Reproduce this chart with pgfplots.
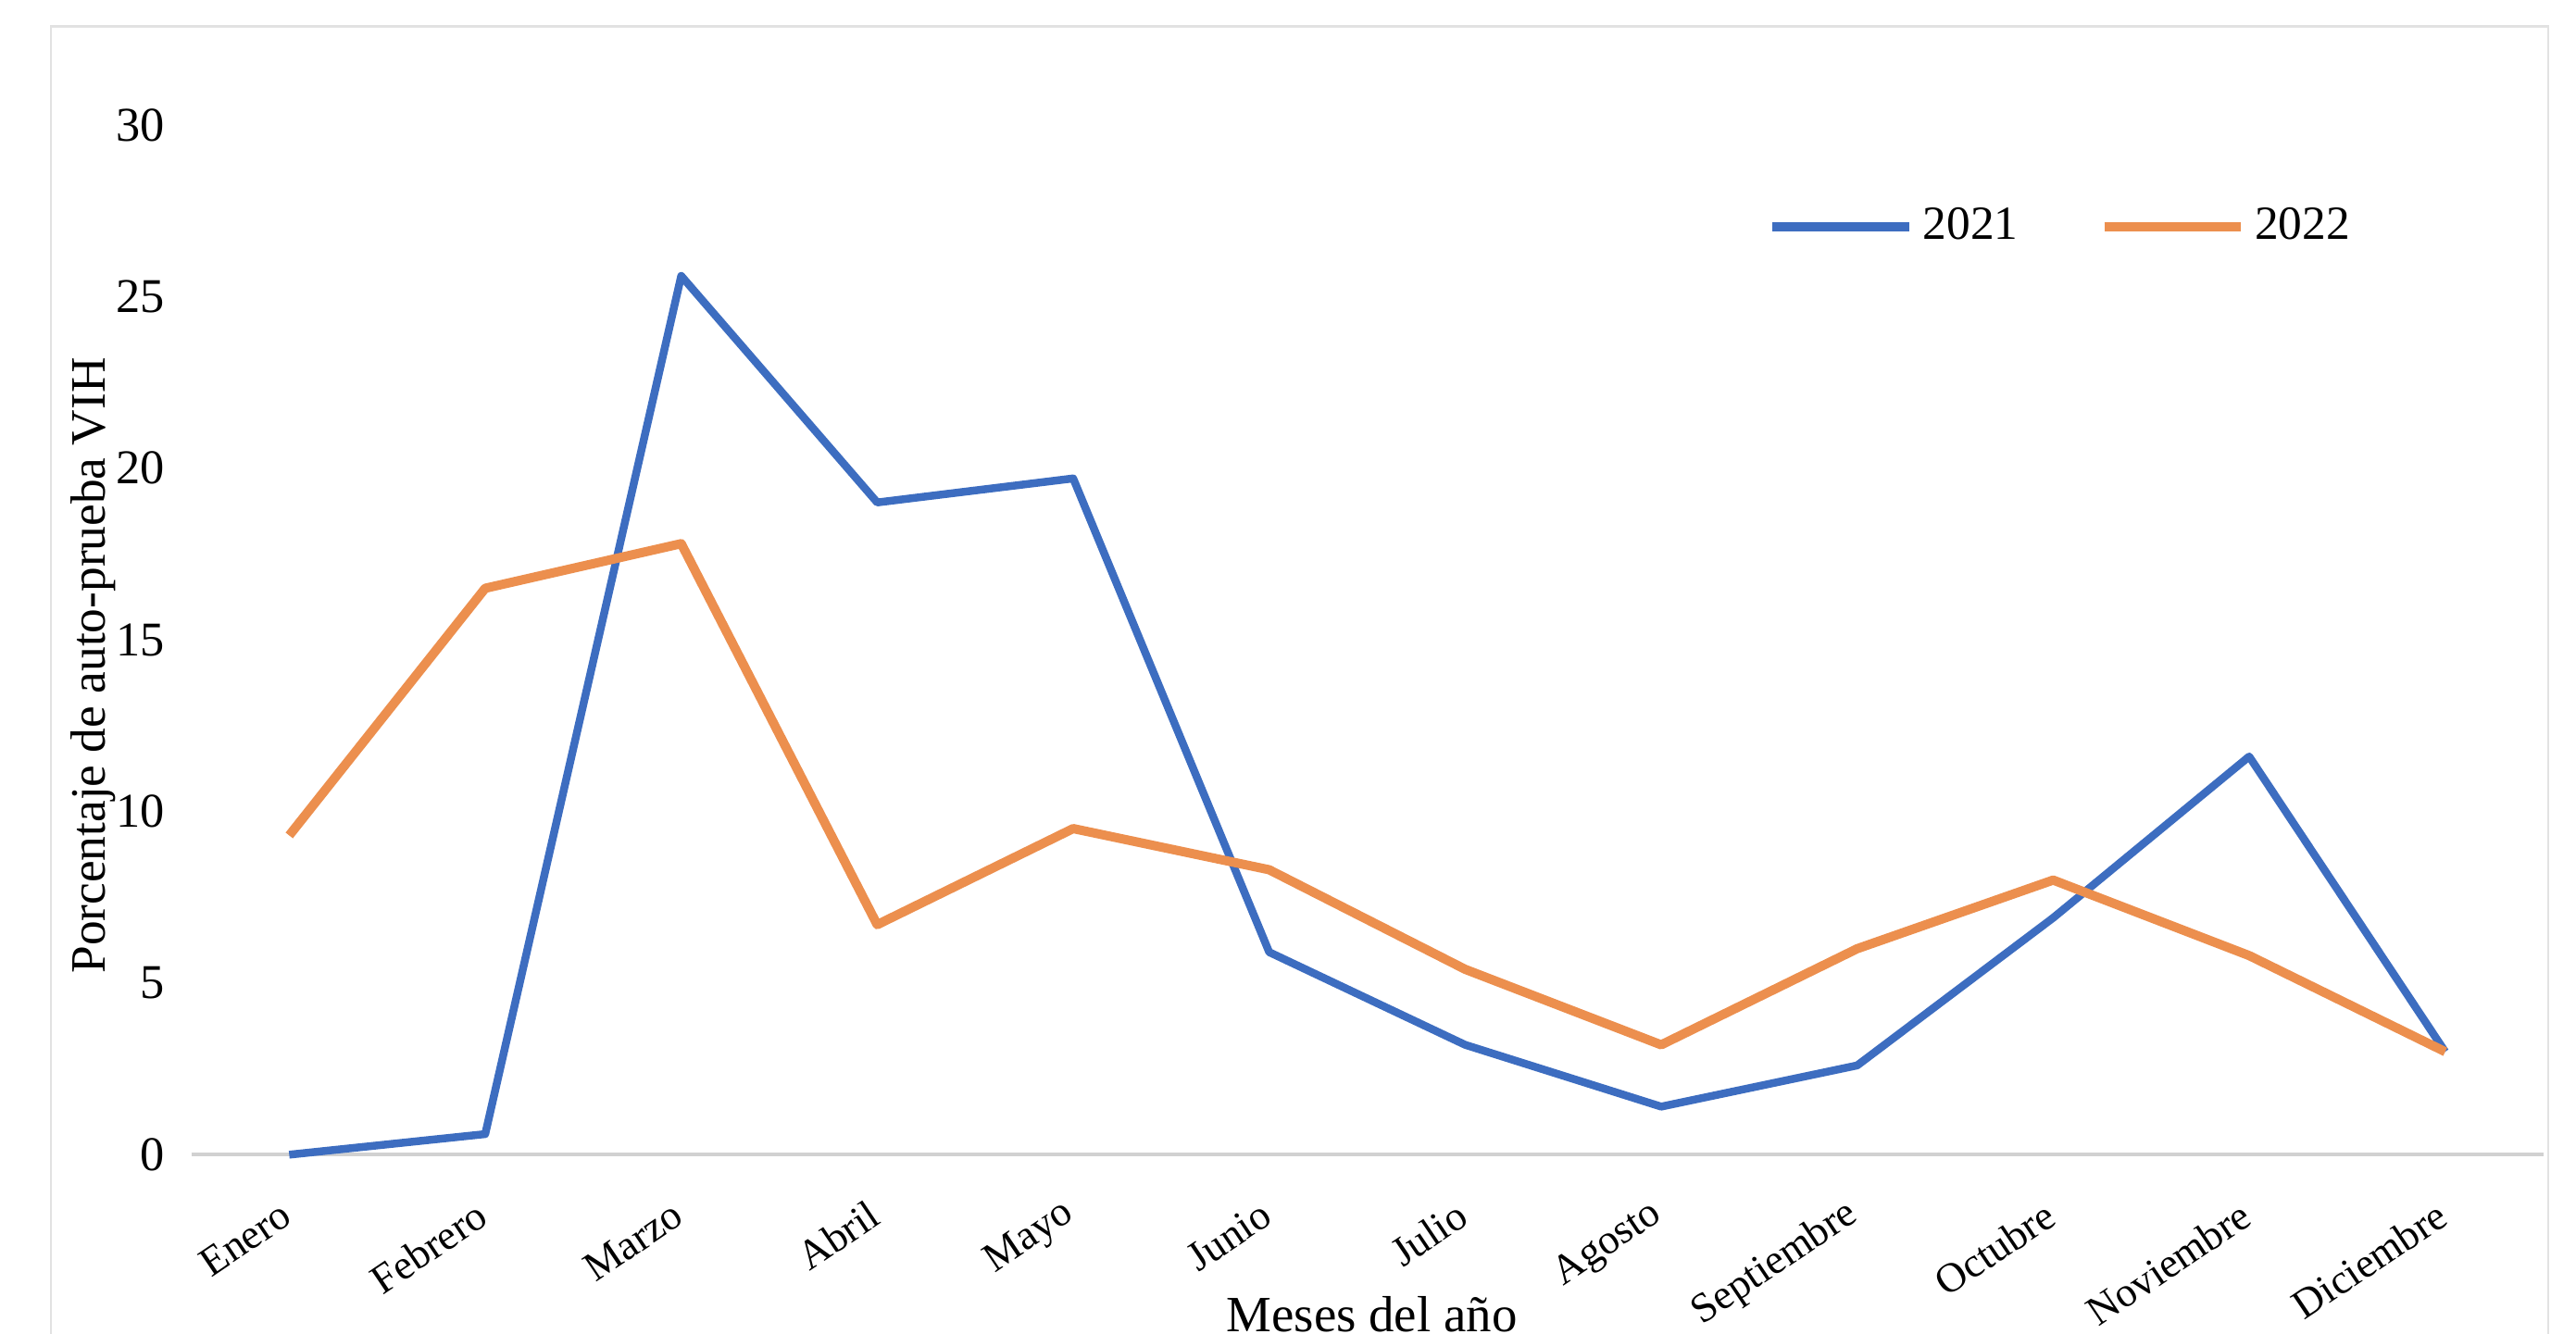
\documentclass[border=0pt]{standalone}
\usepackage{fontspec}
\setmainfont{Liberation Serif}
\usepackage{pgfplots}
\pgfplotsset{compat=1.18}
\definecolor{c21}{HTML}{3D6DC0}
\definecolor{c22}{HTML}{EC8F4E}
\definecolor{frame}{HTML}{E2E2E2}
\begin{document}
\begin{tikzpicture}
\useasboundingbox (0,0) rectangle (19.6,10.15);
\draw[frame, line width=0.5pt] (0.3875,-1) -- (0.3875,9.95) -- (19.3875,9.95) -- (19.3875,-1);
\begin{axis}[
  at={(1.455cm,1.3625cm)}, anchor=south west,
  scale only axis, width=17.895cm, height=7.8375cm,
  xmin=-0.5, xmax=11.5, ymin=0, ymax=30,
  xtick={0,...,11},
  xticklabels={Enero,Febrero,Marzo,Abril,Mayo,Junio,Julio,Agosto,Septiembre,Octubre,Noviembre,Diciembre},
  ytick={0,5,...,30},
  major tick length=0pt,
  axis lines*=left,
  x axis line style={draw=black!18, line width=0.8pt, -},
  y axis line style={draw=none},
  /pgf/number format/assume math mode=true,
  yticklabel style={font=\fontsize{10.5}{12}\selectfont, xshift=-0.08cm},
  xticklabel style={font=\fontsize{9}{11}\selectfont, yshift=-0.36cm, xshift=0.08cm, rotate=34, anchor=east},
  every axis y label/.style={at={(axis description cs:-0.0415,0.475)}, rotate=90, anchor=center, font=\fontsize{10.7}{13}\selectfont},
  every axis x label/.style={at={(axis description cs:0.502,-0.172)}, anchor=base, font=\fontsize{11}{13}\selectfont},
  ylabel={Porcentaje de auto-prueba VIH},
  xlabel={Meses del año},
  legend style={at={(axis description cs:0.670,0.901)}, anchor=west, draw=none, fill=none,
    font=\fontsize{10.3}{12}\selectfont, inner sep=0pt,
    /tikz/every even column/.append style={column sep=0.55cm}},
  legend columns=2,
  legend image code/.code={\draw[#1, line width=2pt] (0cm,0cm) -- (1.04cm,0cm);},
  clip=false,
]
\addplot[c21, line width=1.7pt, line join=round] coordinates {
(0,0) (1,0.6) (2,25.6) (3,19.0) (4,19.7) (5,5.9) (6,3.2) (7,1.4) (8,2.6) (9,6.9) (10,11.6) (11,3.0)};
\addlegendentry{2021}
\addplot[c22, line width=2pt, line join=round] coordinates {
(0,9.3) (1,16.5) (2,17.8) (3,6.7) (4,9.5) (5,8.3) (6,5.4) (7,3.2) (8,6.0) (9,8.0) (10,5.8) (11,3.0)};
\addlegendentry{2022}
\end{axis}
\end{tikzpicture}
\end{document}
